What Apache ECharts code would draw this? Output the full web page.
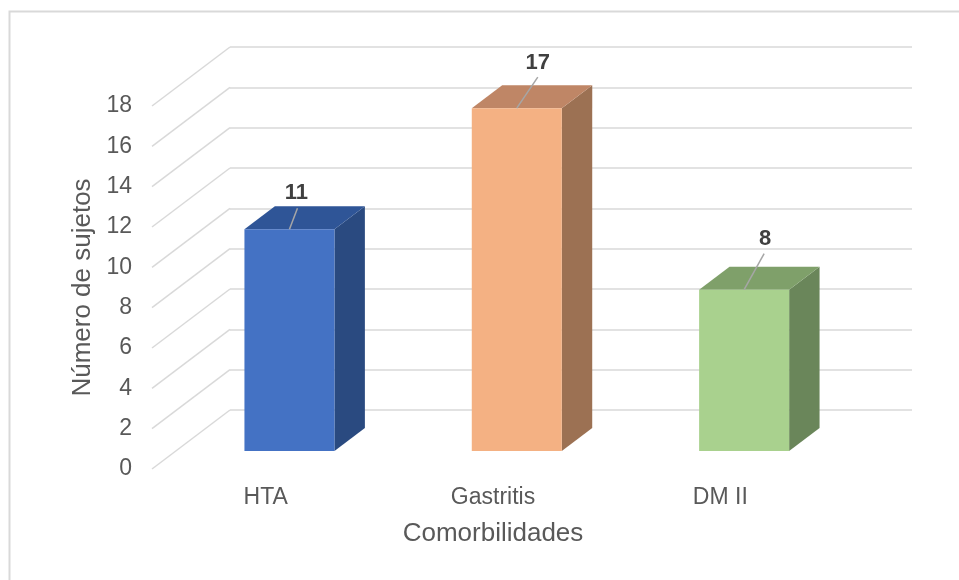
<!DOCTYPE html>
<html lang="es">
<head>
    <meta charset="UTF-8">
    <title>Comorbilidades</title>
    <script src="https://cdn.jsdelivr.net/npm/echarts@6/dist/echarts.min.js"></script>
    <style>
        html, body { margin: 0; padding: 0; background: #fff; }
        #main { width: 959px; height: 580px; }
    </style>
</head>
<body>
    <div id="main"></div>
    <script>
        // datos
        const categories = ['HTA', 'Gastritis', 'DM II']
        const values = [11, 17, 8]
        const yTicks = [0, 2, 4, 6, 8, 10, 12, 14, 16, 18]

        // colores de cada barra: frente, tapa, lado
        const faceColors = ['#4472C4', '#F4B183', '#A9D18E']
        const topColors = ['#2F5597', '#BF8666', '#7FA06A']
        const sideColors = ['#2A4A80', '#9C7153', '#6A865A']

        // profundidad de la perspectiva (pared del fondo -> frente)
        const DX = 78, DY = 59
        const back = { left: 230, right: 47, top: 47, bottom: 170 }
        // desplazamiento de las etiquetas respecto al centro de la tapa
        const leaderEnd = [[8, -21], [21, -31], [20, -36]]
        const labelPos = [[7, -38], [21, -47], [21, -53]]

        const textColor = '#595959'
        const font = 'Liberation Sans, Arial, sans-serif'

        let chart = echarts.init(document.getElementById('main'))

        function renderDiagonal(params, api) {
            let p = api.coord([0, api.value(1)])
            let x0 = params.coordSys.x
            return {
                type: 'line',
                shape: { x1: x0, y1: p[1], x2: x0 - DX, y2: p[1] + DY },
                style: { stroke: '#d9d9d9', lineWidth: 1.5 },
                silent: true
            }
        }

        function renderBar(params, api) {
            let i = api.value(0), v = api.value(1)
            let c = api.coord([i, v])
            let c0 = api.coord([i, 0])
            let w = api.size([1, 0])[0] * 0.396
            // frente al 0.695 de la profundidad, fondo al 0.305
            let fx = c[0] - DX * 0.695, fy = DY * 0.695
            let bx = c[0] - DX * 0.305, by = DY * 0.305
            let L = fx - w / 2, R = fx + w / 2
            let BL = bx - w / 2, BR = bx + w / 2
            let topF = c[1] + fy, botF = c0[1] + fy
            let topB = c[1] + by, botB = c0[1] + by
            let le = leaderEnd[i], lp = labelPos[i]
            return {
                type: 'group',
                children: [
                    {
                        type: 'polygon',
                        shape: { points: [[R, topF], [BR, topB], [BR, botB], [R, botF]] },
                        style: { fill: sideColors[i] }
                    },
                    {
                        type: 'polygon',
                        shape: { points: [[L, topF], [R, topF], [BR, topB], [BL, topB]] },
                        style: { fill: topColors[i] }
                    },
                    {
                        type: 'rect',
                        shape: { x: L, y: topF, width: w, height: botF - topF },
                        style: { fill: faceColors[i] }
                    },
                    {
                        type: 'line',
                        shape: { x1: fx, y1: topF, x2: fx + le[0], y2: topF + le[1] },
                        style: { stroke: '#a6a6a6', lineWidth: 1.5 }
                    },
                    {
                        type: 'text',
                        style: {
                            text: String(v),
                            x: fx + lp[0], y: topF + lp[1] + 2,
                            align: 'center', verticalAlign: 'middle',
                            fontSize: 22, fontWeight: 'bold', fontFamily: font,
                            fill: '#404040'
                        }
                    }
                ]
            }
        }

        let option = {
            animation: false,
            backgroundColor: '#ffffff',
            graphic: [{
                type: 'rect',
                left: 7, top: 9,
                shape: { width: 960, height: 580 },
                style: { fill: 'none', stroke: '#d9d9d9', lineWidth: 2 },
                silent: true
            }],
            grid: [
                back,
                {
                    left: back.left - DX, right: back.right + DX,
                    top: back.top + DY, bottom: back.bottom - DY
                }
            ],
            xAxis: [
                {
                    gridIndex: 0, type: 'category', data: categories,
                    axisLine: { show: false }, axisTick: { show: false },
                    axisLabel: { show: false }, splitLine: { show: false }
                },
                {
                    gridIndex: 1, type: 'category', data: categories,
                    axisLine: { show: false }, axisTick: { show: false },
                    axisLabel: { color: textColor, fontSize: 23, fontFamily: font, margin: 17 },
                    name: 'Comorbilidades', nameLocation: 'middle', nameGap: 52,
                    nameTextStyle: { color: textColor, fontSize: 26, fontFamily: font }
                }
            ],
            yAxis: [
                {
                    gridIndex: 0, type: 'value', min: 0, max: yTicks[yTicks.length - 1], interval: 2,
                    axisLine: { show: false }, axisTick: { show: false },
                    axisLabel: { show: false },
                    splitLine: { lineStyle: { color: '#d9d9d9', width: 1.5 } }
                },
                {
                    gridIndex: 1, type: 'value', min: 0, max: yTicks[yTicks.length - 1], interval: 2,
                    axisLine: { show: false }, axisTick: { show: false },
                    splitLine: { show: false },
                    axisLabel: { color: textColor, fontSize: 23, fontFamily: font, margin: 20 },
                    name: 'Número de sujetos', nameLocation: 'middle', nameGap: 56,
                    nameTextStyle: { color: textColor, fontSize: 26, fontFamily: font }
                }
            ],
            series: [
                {
                    type: 'custom',
                    xAxisIndex: 0, yAxisIndex: 0,
                    renderItem: renderDiagonal,
                    data: yTicks.map(t => [0, t]),
                    z: 1, silent: true
                },
                {
                    type: 'custom',
                    xAxisIndex: 0, yAxisIndex: 0,
                    renderItem: renderBar,
                    data: values.map((v, i) => [i, v]),
                    z: 5
                }
            ]
        }

        chart.setOption(option)
    </script>
</body>
</html>
